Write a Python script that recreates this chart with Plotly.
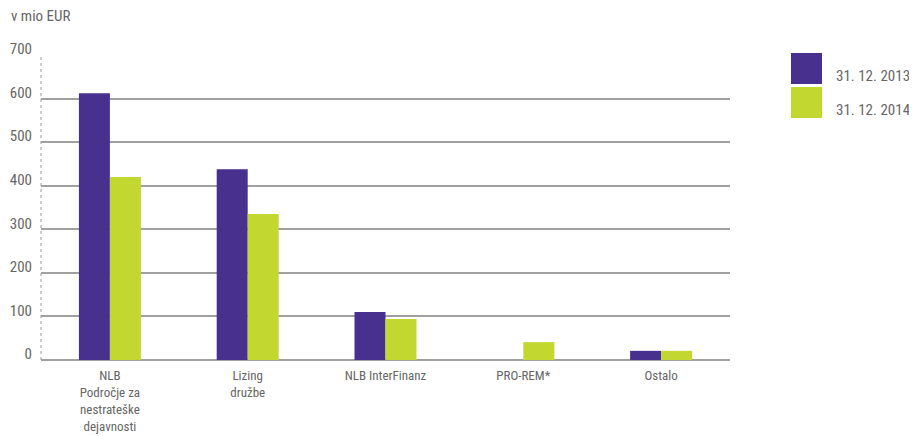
import plotly.graph_objects as go

categories = ["NLB<br>Področje za<br>nestrateške<br>dejavnosti", "Lizing<br>družbe", "NLB InterFinanz", "PRO-REM*", "Ostalo"]
series_names = ["31. 12. 2013", "31. 12. 2014"]
values_2013 = [612, 438, 110, 0, 21]
values_2014 = [420, 335, 94, 41, 21]
colors = ["#48308f", "#c2d72f"]
y_ticks = [0, 100, 200, 300, 400, 500, 600, 700]

FONT = "Roboto Condensed, Liberation Sans Narrow, Roboto, Arial, sans-serif"
TXT = "#666666"

# page body has an 8px margin; figure coordinates are offset accordingly
OFF = 8
W, H = 917 - OFF, 436 - OFF
L, R_EDGE, T, B_EDGE = 41 - OFF, 730 - OFF, 55 - OFF, 360 - OFF
pw, ph = R_EDGE - L, B_EDGE - T

fig = go.Figure()
for name, vals, col in zip(series_names, [values_2013, values_2014], colors):
    fig.add_trace(go.Bar(x=categories, y=vals, name=name, marker=dict(color=col, line=dict(width=0)),
                         showlegend=False))

fig.update_layout(
    width=W, height=H,
    margin=dict(l=L, r=W - R_EDGE, t=T, b=H - B_EDGE, pad=0),
    paper_bgcolor="white", plot_bgcolor="white",
    barmode="group", bargap=0.55, bargroupgap=0,
    font=dict(family=FONT, size=14, color=TXT),
    xaxis=dict(showgrid=False, showline=False, ticks="", tickfont=dict(size=13, color=TXT),
               ticklabelstandoff=6, automargin=False),
    yaxis=dict(range=[0, 700], tickvals=y_ticks, showgrid=True, gridcolor="#a0a0a0", gridwidth=1.5,
               zeroline=True, zerolinecolor="#a0a0a0", zerolinewidth=1.5, showline=False, ticks="",
               tickfont=dict(size=15, color=TXT), ticklabelstandoff=8, ticklabelshift=-6,
               automargin=False),
)

# dotted left axis
fig.add_shape(type="line", xref="paper", yref="paper", x0=0, x1=0, y0=0, y1=1,
              line=dict(color="#999999", width=1, dash="dot"))

def px_x(x):
    return (x - OFF - L) / pw

def px_y(y):
    return (B_EDGE - (y - OFF)) / ph

# title
fig.add_annotation(text="v mio EUR", xref="paper", yref="paper", x=px_x(9), y=px_y(16),
                   xanchor="left", yanchor="middle", showarrow=False, font=dict(size=15, color=TXT))

# custom legend
for i, (name, col) in enumerate(zip(series_names, colors)):
    top = 53 + i * 34
    fig.add_shape(type="rect", xref="paper", yref="paper", x0=px_x(791), x1=px_x(822),
                  y0=px_y(top + 31), y1=px_y(top), fillcolor=col, line=dict(width=0))
    fig.add_annotation(text=name, xref="paper", yref="paper", x=px_x(834),
                       y=px_y(top + 23), xanchor="left", yanchor="middle",
                       showarrow=False, font=dict(size=15, color=TXT))

fig.write_html("out.html")
